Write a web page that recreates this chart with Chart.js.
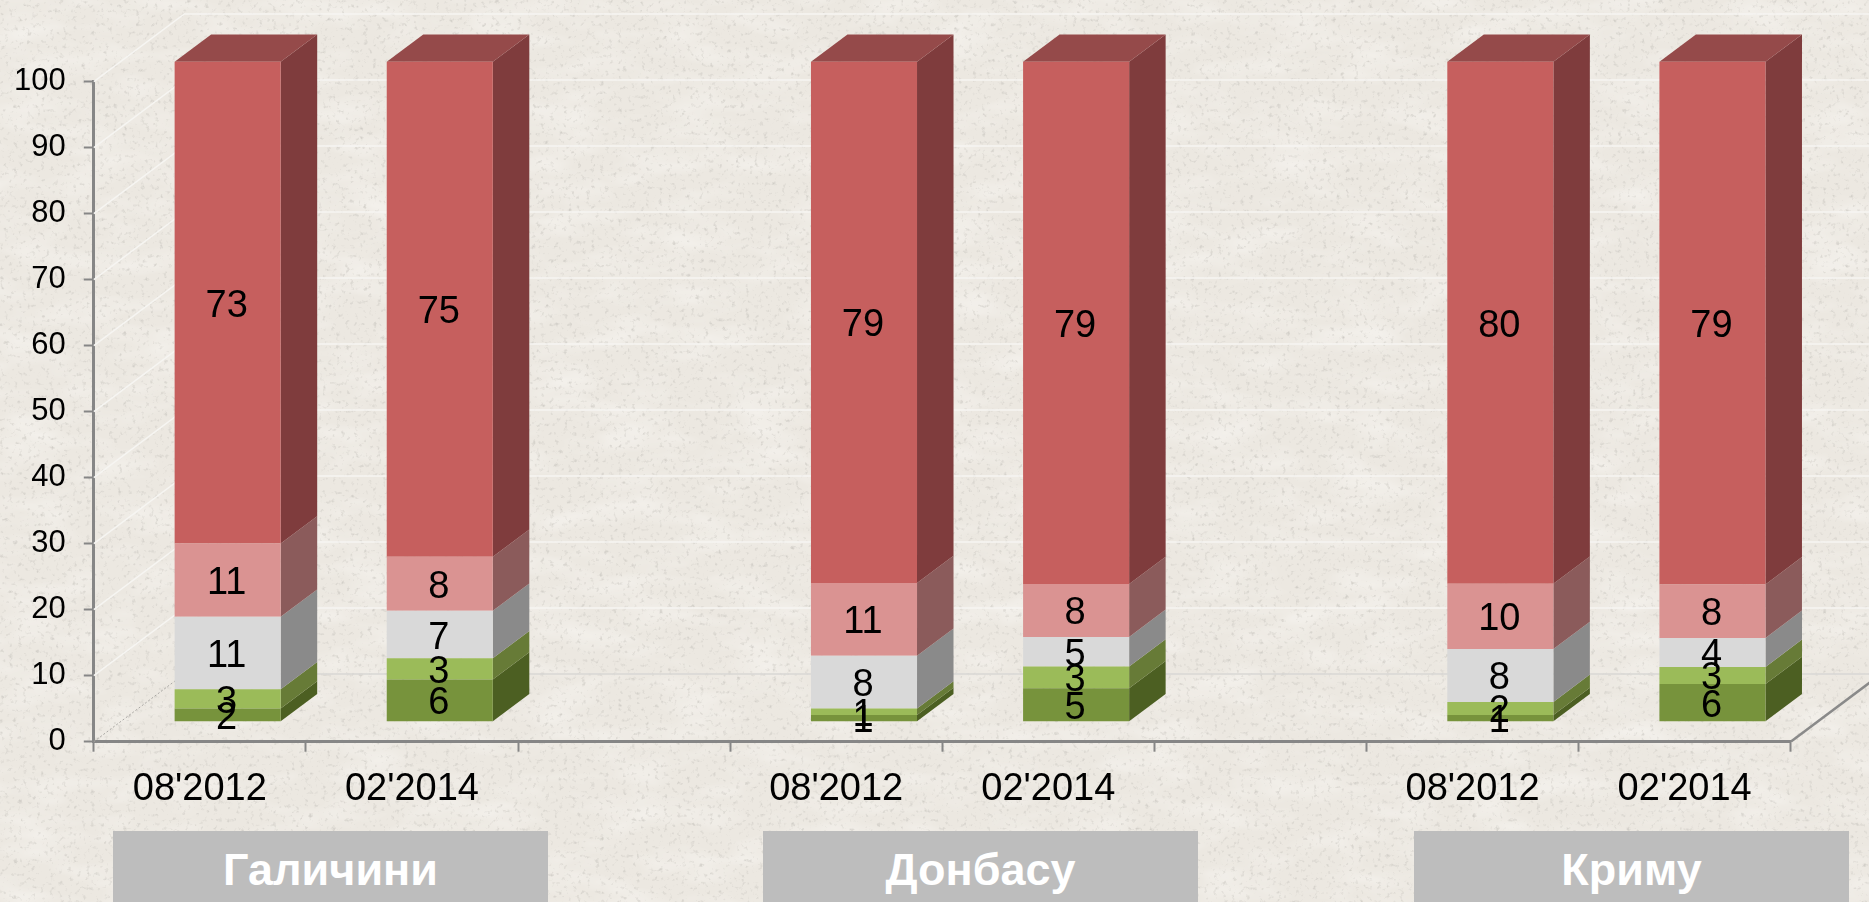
<!DOCTYPE html>
<html lang="uk">
<head>
<meta charset="utf-8">
<title>Chart</title>
<script src="https://cdn.jsdelivr.net/npm/chart.js@4"></script>
<style>
html,body{margin:0;padding:0;width:1869px;height:902px;overflow:hidden;background-color:#ece8e1;}
body{position:relative;font-family:"Liberation Sans",Arial,sans-serif;}
#tex{position:absolute;left:0;top:0;width:1869px;height:902px;}
#c{position:absolute;left:0;top:0;}
.region{position:absolute;top:831px;height:71px;background:#bdbdbd;color:#fff;font-weight:bold;font-size:45px;line-height:77px;text-align:center;}
</style>
</head>
<body>
<svg id="tex" xmlns="http://www.w3.org/2000/svg">
  <filter id="f1" x="0" y="0" width="100%" height="100%">
    <feTurbulence type="fractalNoise" baseFrequency="0.22" numOctaves="3" seed="7"/>
    <feColorMatrix type="matrix" values="0 0 0 0 0.60  0 0 0 0 0.58  0 0 0 0 0.54  0 0 0 2.4 -1.42"/>
  </filter>
  <filter id="f2" x="0" y="0" width="100%" height="100%">
    <feTurbulence type="fractalNoise" baseFrequency="0.015 0.04" numOctaves="3" seed="3"/>
    <feColorMatrix type="matrix" values="0 0 0 0 0.98  0 0 0 0 0.97  0 0 0 0 0.95  0 0 0 0.9 -0.38"/>
  </filter>
  <rect width="1869" height="902" fill="#ece8e1"/>
  <rect width="1869" height="902" filter="url(#f2)"/>
  <rect width="1869" height="902" filter="url(#f1)"/>
</svg>
<canvas id="c" width="1869" height="902"></canvas>
<div id="regions"></div>
<script>
const categories = ["08'2012", "02'2014", "", "08'2012", "02'2014", "", "08'2012", "02'2014"];
const regions = ["Галичини", "Донбасу", "Криму"];
const yTicks = [0, 10, 20, 30, 40, 50, 60, 70, 80, 90, 100];
// Segment shares (100% stacked), bottom segment first.
const darkGreen = [2.0, 6.4, null, 1.0, 5.05, null, 1.0, 5.7];
const lightGreen = [2.9, 3.2, null, 1.0, 3.3, null, 2.0, 2.6];
const grey = [11.0, 7.2, null, 8.0, 4.5, null, 8.0, 4.4];
const pink = [11.1, 8.2, null, 11.0, 8.0, null, 9.9, 8.1];
const red = [73.0, 75.0, null, 79.0, 79.15, null, 79.1, 79.2];
// Printed data labels.
const darkGreenLabels = [2, 6, null, 1, 5, null, 1, 6];
const lightGreenLabels = [3, 3, null, 1, 3, null, 2, 3];
const greyLabels = [11, 7, null, 8, 5, null, 8, 4];
const pinkLabels = [11, 8, null, 11, 8, null, 10, 8];
const redLabels = [73, 75, null, 79, 79, null, 80, 79];

const series = [darkGreen, lightGreen, grey, pink, red];
const seriesLabels = [darkGreenLabels, lightGreenLabels, greyLabels, pinkLabels, redLabels];
const frontColors = ['#77933c', '#9bbb59', '#d9d9d9', '#da9392', '#c65f5e'];
const sideColors = ['#4c5f22', '#677b37', '#8a8a8a', '#8b5b5b', '#7f3c3d'];
const topColor = '#954a4a';

// 3D geometry
const wall = {dx: 90.5, dy: 67.7};
const bar3d = {dx: 27.8, dy: 20, depthX: 36.5, depthY: 27.3};

const regionBoxes = [[113, 435], [763, 435], [1414, 435]];
const holder = document.getElementById('regions');
regions.forEach((name, i) => {
  const d = document.createElement('div');
  d.className = 'region';
  d.textContent = name;
  d.style.left = regionBoxes[i][0] + 'px';
  d.style.width = regionBoxes[i][1] + 'px';
  holder.appendChild(d);
});

function poly(ctx, pts, fill) {
  ctx.beginPath();
  pts.forEach((p, i) => i ? ctx.lineTo(p[0], p[1]) : ctx.moveTo(p[0], p[1]));
  ctx.closePath();
  ctx.fillStyle = fill;
  ctx.fill();
}

const threeD = {
  id: 'threeD',
  beforeDatasetsDraw(chart) {
    const {ctx, scales: {x, y}} = chart;
    const L = x.left, R = x.right;
    ctx.save();
    // walls: diagonal side-wall lines and back-wall gridlines
    yTicks.forEach(v => {
      if (v === 0) return;
      const py = y.getPixelForValue(v);
      ctx.strokeStyle = '#f6f5f2';
      ctx.lineWidth = 1.5;
      ctx.beginPath();
      ctx.moveTo(L, py);
      ctx.lineTo(L + wall.dx, py - wall.dy);
      ctx.lineTo(R + wall.dx, py - wall.dy);
      ctx.stroke();
    });
    const y0 = y.getPixelForValue(0);
    // back floor edge
    ctx.strokeStyle = '#d9d7d4';
    ctx.lineWidth = 1.5;
    ctx.beginPath();
    ctx.moveTo(L + wall.dx, y0 - wall.dy);
    ctx.lineTo(R + wall.dx, y0 - wall.dy);
    ctx.stroke();
    // left floor edge dotted
    ctx.strokeStyle = '#a9a7a3';
    ctx.lineWidth = 1;
    ctx.setLineDash([2, 2]);
    ctx.beginPath();
    ctx.moveTo(L, y0);
    ctx.lineTo(L + wall.dx, y0 - wall.dy);
    ctx.stroke();
    ctx.setLineDash([]);
    // right floor edge
    ctx.strokeStyle = '#8a8a8a';
    ctx.lineWidth = 2.5;
    ctx.beginPath();
    ctx.moveTo(R, y0);
    ctx.lineTo(R + wall.dx, y0 - wall.dy);
    ctx.stroke();

    // bars are shifted onto their own plane
    ctx.translate(bar3d.dx, -bar3d.dy);
    const {depthX: dX, depthY: dY} = bar3d;
    chart.data.datasets.forEach((ds, di) => {
      const meta = chart.getDatasetMeta(di);
      meta.data.forEach((el, i) => {
        if (ds.data[i] == null) return;
        const p = el.getProps(['x', 'y', 'base', 'width'], true);
        const r = p.x + p.width / 2, l = p.x - p.width / 2;
        poly(ctx, [[r, p.y], [r + dX, p.y - dY], [r + dX, p.base - dY], [r, p.base]], sideColors[di]);
        if (di === chart.data.datasets.length - 1) {
          poly(ctx, [[l, p.y], [l + dX, p.y - dY], [r + dX, p.y - dY], [r, p.y]], topColor);
        }
      });
    });
  },
  afterDatasetsDraw(chart) {
    const {ctx} = chart;
    ctx.font = '38px "Liberation Sans", Arial, sans-serif';
    ctx.fillStyle = '#000';
    ctx.textAlign = 'center';
    ctx.textBaseline = 'middle';
    chart.data.datasets.forEach((ds, di) => {
      chart.getDatasetMeta(di).data.forEach((el, i) => {
        const label = seriesLabels[di][i];
        if (label == null) return;
        const p = el.getProps(['x', 'y', 'base'], true);
        ctx.fillText(String(label), p.x - 1, (p.y + p.base) / 2 + 3.5);
      });
    });
    ctx.restore();
  }
};

new Chart(document.getElementById('c'), {
  type: 'bar',
  data: {
    labels: categories,
    datasets: series.map((s, di) => ({
      label: 's' + di,
      data: s,
      backgroundColor: frontColors[di],
      borderWidth: 0,
      barPercentage: 0.5,
      categoryPercentage: 1,
      clip: false
    }))
  },
  options: {
    responsive: false,
    animation: false,
    devicePixelRatio: 1,
    layout: {padding: {left: 0, top: 81.7, right: 78.3, bottom: 0}},
    plugins: {legend: {display: false}, tooltip: {enabled: false}, title: {display: false}},
    scales: {
      x: {
        stacked: true,
        afterFit: s => { s.height = 160.3; },
        grid: {drawOnChartArea: false, tickLength: 10, tickColor: '#868686', tickWidth: 2, offset: true},
        border: {color: '#868686', width: 3},
        ticks: {
          autoSkip: false, maxRotation: 0, minRotation: 0, color: '#000', padding: 15,
          font: {family: '"Liberation Sans", Arial, sans-serif', size: 38}
        }
      },
      y: {
        stacked: true,
        min: 0, max: 100,
        afterFit: s => { s.width = 93.8; },
        afterBuildTicks: s => { s.ticks = yTicks.map(v => ({value: v})); },
        grid: {drawOnChartArea: false, tickLength: 10, tickColor: '#868686', tickWidth: 2},
        border: {color: '#868686', width: 3},
        ticks: {
          color: '#000', padding: 18,
          font: {family: '"Liberation Sans", Arial, sans-serif', size: 31}
        }
      }
    }
  },
  plugins: [threeD]
});
</script>
</body>
</html>
